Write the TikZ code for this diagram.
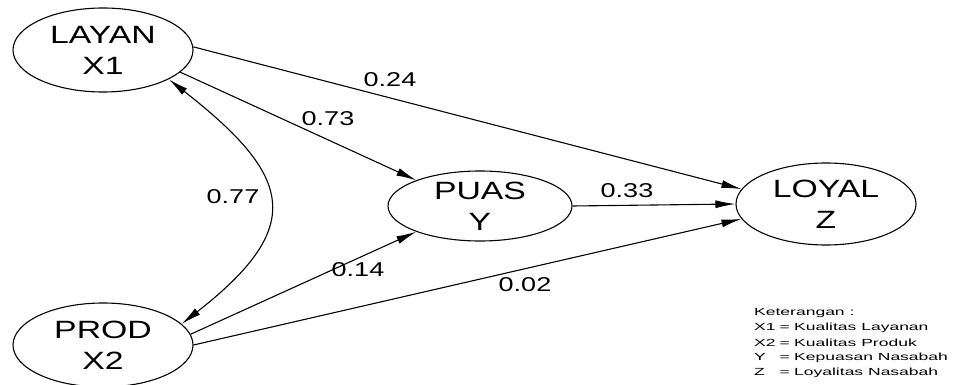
\documentclass[tikz,border=0pt]{standalone}
\usepackage{graphicx}
\usepackage{fontspec}
\setmainfont{Liberation Sans}
\usetikzlibrary{arrows.meta,shapes.geometric}
\newcommand\wtxt[1]{\scalebox{1.35}[1]{#1}}
\newcommand\ltxt[1]{\scalebox{1.7}[1]{#1}}
\newcommand\legrow[2]{\ltxt{\makebox[15pt][l]{#1}\makebox[6pt][c]{=}\hspace{2.5pt}#2}}
\begin{document}
\begin{tikzpicture}[x=1pt,y=-1pt,
  ell/.style={ellipse,draw,line width=1.1pt,inner sep=0pt,align=center,
    font=\fontsize{25}{31}\selectfont,minimum width=180pt,minimum height=84pt},
  lbl/.style={inner sep=0pt,font=\fontsize{20}{24}\selectfont},
  leg/.style={inner sep=0pt,anchor=west,font=\fontsize{10.3}{12}\selectfont},
  conn/.style={line width=1.1pt,-{Latex[length=20pt,width=8pt]}},
  dconn/.style={line width=1.1pt,{Latex[length=20pt,width=8pt]}-{Latex[length=20pt,width=8pt]}}]
\useasboundingbox (0,0) rectangle (956,385);
\node[ell] (layan) at (103,50) {\wtxt{LAYAN}\\\wtxt{X1}};
\node[ell] (prod) at (103,345) {\wtxt{PROD}\\\wtxt{X2}};
\node[ell,minimum width=184pt,minimum height=70pt] (puas) at (480,206) {\wtxt{PUAS}\\\wtxt{Y}};
\node[ell,minimum width=180pt,minimum height=82pt] (loyal) at (826,204) {\wtxt{LOYAL}\\\wtxt{Z}};
\draw[conn] (layan.2) -- (loyal.170);
\draw[conn] (layan.-16) -- (puas.158);
\draw[conn] (puas.east) -- (loyal.west);
\draw[conn] (prod.7) -- (puas.-158);
\draw[conn] (prod.0) -- (loyal.-170);
\draw[dconn] (layan.-24) to[out=-38,in=38,looseness=1.65] (prod.15);
\node[lbl] (l24) at (390,80) {\wtxt{0.24}};
\node[lbl] (l73) at (328,119) {\wtxt{0.73}};
\node[lbl] (l77) at (233,197) {\wtxt{0.77}};
\node[lbl] (l33) at (627,191) {\wtxt{0.33}};
\node[lbl] (l14) at (358,270) {\wtxt{0.14}};
\node[lbl] (l02) at (525,285) {\wtxt{0.02}};
\node[leg] (k0) at (754,313) {\ltxt{Keterangan :}};
\node[leg] (k1) at (754,328) {\legrow{X1}{Kualitas Layanan}};
\node[leg] (k2) at (754,343) {\legrow{X2}{Kualitas Produk}};
\node[leg] (k3) at (754,358) {\legrow{Y}{Kepuasan Nasabah}};
\node[leg] (k4) at (754,373) {\legrow{Z}{Loyalitas Nasabah}};
\end{tikzpicture}
\end{document}
